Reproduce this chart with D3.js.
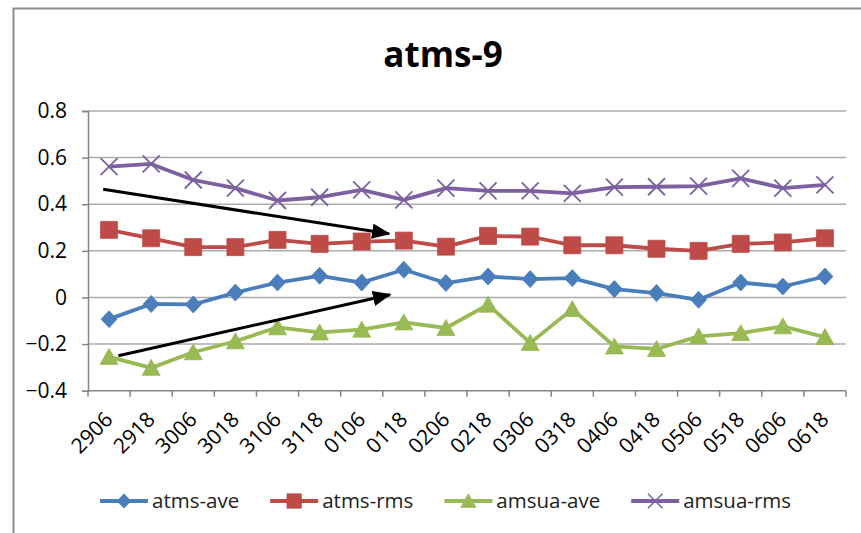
<!DOCTYPE html>
<html>
<head>
<meta charset="utf-8">
<script src="https://cdn.jsdelivr.net/npm/d3@7"></script>
<style>
  html, body { margin: 0; padding: 0; background: #fff; }
  svg { display: block; }
  text { font-family: "Open Sans", "Liberation Sans", sans-serif; }
</style>
</head>
<body>
<svg id="chart" width="861" height="533"></svg>
<script>
// Observation slots (day + hour)
const categories = ["2906","2918","3006","3018","3106","3118","0106","0118","0206",
                    "0218","0306","0318","0406","0418","0506","0518","0606","0618"];

const atmsAve  = [-0.093, -0.028, -0.030, 0.021, 0.064, 0.093, 0.064, 0.119, 0.062,
                   0.090,  0.079,  0.083, 0.036, 0.019, -0.010, 0.064, 0.047, 0.090];
const atmsRms  = [0.290, 0.254, 0.216, 0.216, 0.247, 0.230, 0.240, 0.244, 0.218,
                  0.264, 0.261, 0.224, 0.224, 0.209, 0.200, 0.230, 0.236, 0.254];
const amsuaAve = [-0.255, -0.302, -0.235, -0.188, -0.128, -0.150, -0.138, -0.107, -0.131,
                  -0.031, -0.195, -0.050, -0.210, -0.221, -0.167, -0.153, -0.124, -0.170];
const amsuaRms = [0.561, 0.573, 0.504, 0.469, 0.416, 0.430, 0.462, 0.419, 0.469,
                  0.457, 0.457, 0.447, 0.473, 0.475, 0.478, 0.511, 0.469, 0.483];

const yTicks = [-0.4, -0.2, 0, 0.2, 0.4, 0.6, 0.8];
const titleText = "atms-9";

// Trend arrows, in category units (x) and value units (y)
const trendArrows = [
  { x0: 0.36, y0: 0.464,  x1: 7.15, y1: 0.273 },
  { x0: 0.72, y0: -0.250, x1: 7.17, y1: 0.012 }
];

const series = [
  { name: "atms-ave",  values: atmsAve,  color: "#4a7ebb", marker: "diamond"  },
  { name: "atms-rms",  values: atmsRms,  color: "#be4b48", marker: "square"   },
  { name: "amsua-ave", values: amsuaAve, color: "#98b954", marker: "triangle" },
  { name: "amsua-rms", values: amsuaRms, color: "#7d60a0", marker: "cross"    }
];

const svg = d3.select("#chart");
const plot = { left: 88, right: 846, top: 111, bottom: 390.7 };

const x = d3.scaleBand().domain(categories).range([plot.left, plot.right]).padding(0);
const xc = c => x(c) + x.bandwidth() / 2;
const xUnits = d3.scaleLinear().domain([0, categories.length]).range([plot.left, plot.right]);
const y = d3.scaleLinear().domain([-0.4, 0.8]).range([plot.bottom, plot.top]);

// Chart frame
svg.append("rect")
  .attr("x", 13.5).attr("y", 8.5)
  .attr("width", 900).attr("height", 600)
  .attr("fill", "none").attr("stroke", "#8c8c8c").attr("stroke-width", 2);

// Title
svg.append("text")
  .attr("x", 443).attr("y", 67)
  .attr("text-anchor", "middle")
  .attr("font-size", 35).attr("font-weight", 700)
  .attr("fill", "#000")
  .text(titleText);

// Horizontal gridlines
svg.append("g").selectAll("line")
  .data(yTicks.filter(t => t !== -0.4))
  .join("line")
  .attr("x1", plot.left).attr("x2", plot.right)
  .attr("y1", d => y(d)).attr("y2", d => y(d))
  .attr("stroke", "#ababab").attr("stroke-width", 1.5);

// Y axis
const yAxis = svg.append("g")
  .attr("transform", `translate(${plot.left},0)`)
  .call(d3.axisLeft(y).tickValues(yTicks).tickSize(6).tickPadding(15)
        .tickFormat(d => d === 0 ? "0" : d3.format(".1f")(d)));
yAxis.select(".domain").attr("stroke", "#868686").attr("stroke-width", 1.5);
yAxis.selectAll(".tick line").attr("stroke", "#868686").attr("stroke-width", 1.5);
yAxis.selectAll(".tick text")
  .attr("font-size", 21).attr("fill", "#000")
  .attr("font-family", "'Open Sans', sans-serif");

// X axis (ticks on category boundaries)
const xAxisG = svg.append("g").attr("transform", `translate(0,${plot.bottom})`);
xAxisG.append("line")
  .attr("x1", plot.left).attr("x2", plot.right)
  .attr("stroke", "#868686").attr("stroke-width", 1.5);
xAxisG.selectAll("line.tk")
  .data(d3.range(categories.length + 1))
  .join("line").attr("class", "tk")
  .attr("x1", d => xUnits(d)).attr("x2", d => xUnits(d))
  .attr("y1", 0).attr("y2", 6)
  .attr("stroke", "#868686").attr("stroke-width", 1.5);
svg.append("g").selectAll("text")
  .data(categories)
  .join("text")
  .attr("transform", d => `translate(${xc(d) + 5},${plot.bottom + 30}) rotate(-45)`)
  .attr("text-anchor", "end")
  .attr("font-size", 21).attr("fill", "#000")
  .text(d => d);

// Marker shapes
function markerPath(type) {
  switch (type) {
    case "diamond":  return "M0,-8.5L8,0L0,8.5L-8,0Z";
    case "square":   return "M-8.5,-8.5H8.5V8.5H-8.5Z";
    case "triangle": return "M0,-8.5L9,7.5L-9,7.5Z";
    case "cross":    return "M-8.5,-8.5L8.5,8.5M8.5,-8.5L-8.5,8.5";
  }
}
function drawMarker(g, type, color) {
  const p = g.append("path").attr("d", markerPath(type));
  if (type === "cross") {
    p.attr("fill", "none").attr("stroke", color).attr("stroke-width", 1.8);
  } else {
    p.attr("fill", color).attr("stroke", color).attr("stroke-width", 0.8);
  }
}

const line = d3.line().x((d, i) => xc(categories[i])).y(d => y(d));

const seriesG = svg.append("g");
series.forEach(s => {
  seriesG.append("path")
    .datum(s.values)
    .attr("d", line)
    .attr("fill", "none")
    .attr("stroke", s.color)
    .attr("stroke-width", 3.8)
    .attr("stroke-linejoin", "round");
  s.values.forEach((v, i) => {
    const g = seriesG.append("g").attr("transform", `translate(${xc(categories[i])},${y(v)})`);
    drawMarker(g, s.marker, s.color);
  });
});

// Trend arrows
const defs = svg.append("defs");
defs.append("marker")
  .attr("id", "arrowhead")
  .attr("viewBox", "0 0 12 10")
  .attr("refX", 11).attr("refY", 5)
  .attr("markerWidth", 6.2).attr("markerHeight", 5.2)
  .attr("markerUnits", "strokeWidth")
  .attr("orient", "auto")
  .append("path").attr("d", "M0,0L12,5L0,10Z").attr("fill", "#000");

svg.append("g").selectAll("line")
  .data(trendArrows)
  .join("line")
  .attr("x1", d => xUnits(d.x0)).attr("y1", d => y(d.y0))
  .attr("x2", d => xUnits(d.x1)).attr("y2", d => y(d.y1))
  .attr("stroke", "#000").attr("stroke-width", 3)
  .attr("marker-end", "url(#arrowhead)");

// Legend
const legend = svg.append("g").attr("transform", "translate(100,501)");
let lx = 0;
series.forEach(s => {
  const item = legend.append("g").attr("transform", `translate(${lx},0)`);
  item.append("line")
    .attr("x1", 0).attr("x2", 48)
    .attr("stroke", s.color).attr("stroke-width", 3.8);
  const mg = item.append("g").attr("transform", "translate(24,0) scale(0.85)");
  drawMarker(mg, s.marker, s.color);
  const t = item.append("text")
    .attr("x", 52).attr("y", 7)
    .attr("font-size", 20.5).attr("fill", "#222")
    .text(s.name);
  lx += 52 + t.node().getComputedTextLength() + 31;
});
</script>
</body>
</html>
